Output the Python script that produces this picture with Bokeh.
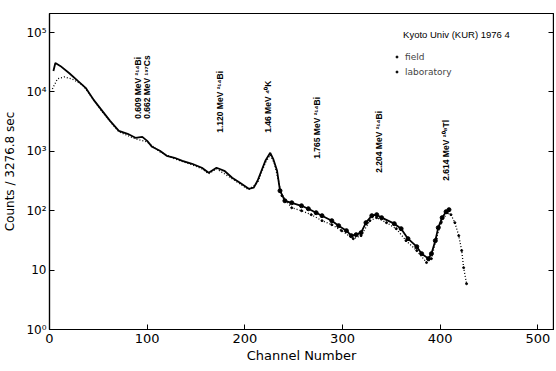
import math
from bokeh.plotting import figure
from bokeh.models import (Range1d, FixedTicker, LogAxis, Label, Legend, LegendItem,
                          CustomJSTickFormatter)
from bokeh.embed import file_html
from bokeh.resources import INLINE
from bokeh.core.properties import value

# ---- data ----
lab_channel = [4, 6, 11, 20, 29, 37, 46, 54, 62, 71, 80, 88, 95, 100, 105, 113, 120, 128, 136,
               146, 156, 163, 171, 179, 187, 195, 204, 209, 213, 217, 221, 226, 229, 233, 236,
               241, 248, 258, 265, 273, 279, 289, 296, 304, 309, 314, 319, 324, 330, 335, 340,
               353, 360, 367, 376, 381, 388, 391, 395, 398, 402, 406, 409]
lab_counts = [22500, 30700, 27400, 20800, 15300, 11700, 7060, 4800, 3260, 2210, 1970, 1690, 1750,
              1500, 1190, 1020, 840, 778, 692, 617, 528, 435, 528, 470, 359, 296, 234, 244, 319,
              470, 692, 944, 748, 470, 217, 147, 136, 121, 108, 92.5, 82.4, 67.9, 56.0, 46.1,
              38.0, 39.5, 42.7, 62.9, 82.4, 85.7, 76.3, 60.5, 49.8, 33.8, 24.8, 18.9, 15.6, 18.9,
              31.3, 51.8, 76.3, 96.2, 104]

field_channel = [3, 8, 15, 23, 34, 46, 54, 71, 88, 100, 113, 128, 146, 156, 163, 171, 187, 204,
                 213, 221, 226, 230, 234, 238, 248, 258, 268, 279, 289, 299, 311, 319, 328, 335,
                 345, 355, 365, 376, 386, 391, 396, 401, 407, 411, 415, 419, 422, 424, 427]
field_counts = [11200, 16500, 17900, 16500, 13100, 7060, 4610, 2130, 1620, 1440, 981, 748, 593,
                508, 419, 508, 345, 225, 296, 641, 873, 641, 345, 179, 112, 100, 85.7, 67.9,
                58.2, 46.1, 33.8, 38.0, 67.9, 76.3, 62.9, 49.8, 31.3, 21.3, 13.4, 15.6, 33.8,
                62.9, 92.5, 85.7, 62.9, 38.0, 21.3, 11.0, 5.9]

peak_labels = ["0.609 MeV \u00b2\u00b9\u2074Bi", "0.662 MeV \u00b9\u00b3\u2077Cs",
               "1.120 MeV \u00b2\u00b9\u2074Bi", "1.46 MeV \u2074\u2070K",
               "1.765 MeV \u00b2\u00b9\u2074Bi", "2.204 MeV \u00b2\u00b9\u2074Bi",
               "2.614 MeV \u00b2\u2070\u2078Tl"]
peak_channel = [91, 100, 175, 224, 274, 337, 406]
peak_counts = [3520, 3520, 2050, 2050, 748, 435, 319]

x_ticks = [0, 100, 200, 300, 400, 500]
y_ticks = [1, 10, 100, 1000, 10000, 100000]
y_tick_labels = ["10\u2070", "10", "10\u00b2", "10\u00b3", "10\u2074", "10\u2075"]

title_text = "Kyoto Univ (KUR) 1976 4"
x_title = "Channel Number"
y_title = "Counts / 3276.8 sec"

# ---- figure ----
p = figure(width=554, height=367, output_backend="svg", toolbar_location=None,
           x_range=Range1d(0, 516), y_range=Range1d(1, 209000), y_axis_type="log",
           min_border_left=47, min_border_right=1, min_border_top=13, min_border_bottom=38)
p.grid.visible = False
p.outline_line_color = "black"
p.outline_line_width = 1.2
p.background_fill_color = "white"
p.border_fill_color = "white"

FONT = "DejaVu Sans"

p.xaxis.ticker = FixedTicker(ticks=x_ticks)
p.yaxis.ticker = FixedTicker(ticks=y_ticks)
p.yaxis.major_label_overrides = {t: l for t, l in zip(y_ticks, y_tick_labels)}
for ax in (p.xaxis, p.yaxis):
    ax.major_tick_in = 5
    ax.major_tick_out = 0
    ax.minor_tick_line_color = None
    ax.axis_line_color = "black"
    ax.axis_line_width = 1.2
    ax.major_label_text_font = FONT
    ax.major_label_text_color = "black"
    ax.axis_label_text_font = FONT
    ax.axis_label_text_font_style = "normal"
    ax.axis_label_text_color = "black"

p.xaxis.axis_label = x_title
p.xaxis.major_label_text_font_size = "13px"
p.xaxis.axis_label_text_font_size = "13px"
p.xaxis.major_label_standoff = 4
p.xaxis.axis_label_standoff = 2

p.yaxis.axis_label = y_title
p.yaxis.major_label_text_font_size = "12px"
p.yaxis.axis_label_text_font_size = "12px"
p.yaxis.major_label_standoff = 3
p.yaxis.axis_label_standoff = 6

right = LogAxis(ticker=FixedTicker(ticks=y_ticks),
                formatter=CustomJSTickFormatter(code="return ''"),
                axis_label=None,
                major_tick_in=5, major_tick_out=0, minor_tick_line_color=None,
                axis_line_color="black", axis_line_width=1.2, major_label_standoff=0)
p.add_layout(right, "right")

# ---- data ----
p.line(field_channel, field_counts, line_color="black", line_width=1.3, line_dash="1 2")
p.line(lab_channel, lab_counts, line_color="black", line_width=1.8)

lab_tail_x = [c for c in lab_channel if c >= 236]
lab_tail_y = [v for c, v in zip(lab_channel, lab_counts) if c >= 236]
field_tail_x = [c for c in field_channel if c >= 236]
field_tail_y = [v for c, v in zip(field_channel, field_counts) if c >= 236]
r_field = p.scatter(field_tail_x, field_tail_y, marker="circle", size=2,
                    fill_color="black", line_color="black")
r_lab = p.scatter(lab_tail_x, lab_tail_y, marker="circle", size=4,
                  fill_color="black", line_color="black")

# ---- peak labels ----
p.text(x=peak_channel, y=peak_counts, text=peak_labels, angle=math.pi / 2,
       text_align="left", text_baseline="middle", text_font=value("Liberation Sans"),
       text_font_size="8.5px", text_font_style="bold", text_color="black")

# ---- legend ----
p.add_layout(Label(x=362, y=94400, text=title_text, text_font="Liberation Sans",
                   text_font_size="9.5px", text_baseline="middle", text_align="left",
                   text_color="black"))
legend = Legend(items=[LegendItem(label="field", renderers=[r_field]),
                       LegendItem(label="laboratory", renderers=[r_lab])],
                location=(345, 250), background_fill_alpha=0, border_line_color=None,
                padding=0, spacing=0, margin=0, glyph_width=5, glyph_height=15,
                label_height=15, label_standoff=6, label_text_font=FONT,
                label_text_font_size="9px")
p.add_layout(legend, "center")

open("out.html", "w").write(file_html(p, INLINE))
